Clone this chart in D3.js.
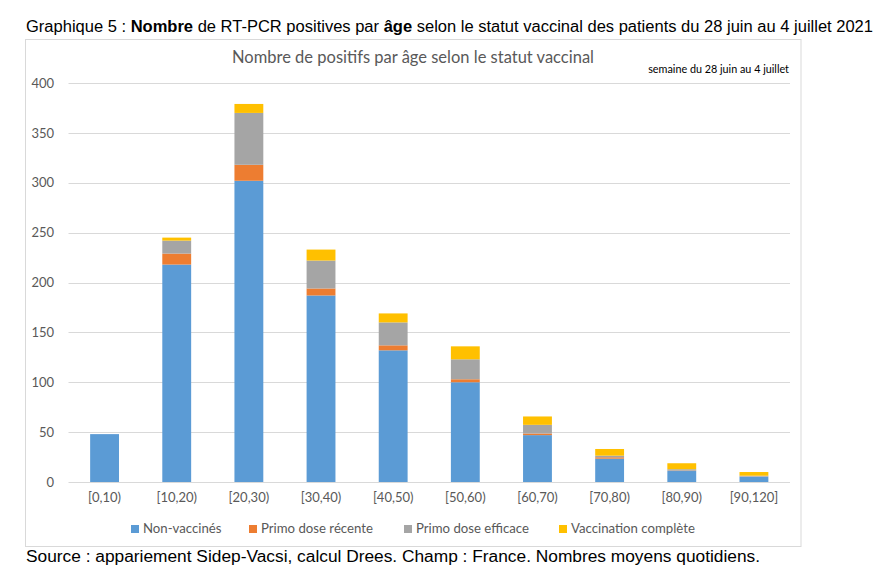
<!DOCTYPE html>
<html>
<head>
<meta charset="utf-8">
<script src="https://cdn.jsdelivr.net/npm/d3@7"></script>
<style>
  html, body { margin: 0; padding: 0; background: #fff; }
  svg { display: block; }
</style>
</head>
<body>
<svg id="chart" width="884" height="574"></svg>
<script>
const categories = ["[0,10)", "[10,20)", "[20,30)", "[30,40)", "[40,50)", "[50,60)", "[60,70)", "[70,80)", "[80,90)", "[90,120]"];
const seriesNames = ["Non-vaccinés", "Primo dose récente", "Primo dose efficace", "Vaccination complète"];
const nonVaccines = [48, 218, 302, 187, 132, 100, 47, 23.4, 11, 5.3];
const primoRecente = [0, 11, 16, 7, 5, 3, 1.6, 1.4, 0.3, 0.2];
const primoEfficace = [0, 13, 52, 28, 23, 20, 8.7, 1.6, 1.5, 0.8];
const vaccinationComplete = [0, 3, 9, 11, 9, 13, 8.4, 6.7, 6, 3.7];
const yTicks = [0, 50, 100, 150, 200, 250, 300, 350, 400];

const colors = ["#5B9BD5", "#ED7D31", "#A5A5A5", "#FFC000"];
const seriesValues = [nonVaccines, primoRecente, primoEfficace, vaccinationComplete];

const svg = d3.select("#chart");
const calibri = "Lato, 'Open Sans', sans-serif";

// Heading
const head = svg.append("text").attr("x", 26).attr("y", 32)
  .attr("font-family", "'Liberation Sans', Arial, sans-serif")
  .attr("font-size", 16).attr("fill", "#000")
  .attr("textLength", 847).attr("lengthAdjust", "spacingAndGlyphs");
head.append("tspan").text("Graphique 5 : ");
head.append("tspan").attr("font-weight", "bold").text("Nombre");
head.append("tspan").text(" de RT-PCR positives par ");
head.append("tspan").attr("font-weight", "bold").text("âge");
head.append("tspan").text(" selon le statut vaccinal des patients du 28 juin au 4 juillet 2021");

// Frame
svg.append("rect").attr("x", 25.5).attr("y", 39.5).attr("width", 775.5).attr("height", 507)
  .attr("fill", "#fff").attr("stroke", "#d9d9d9").attr("stroke-width", 1);

// Chart title
svg.append("text").attr("x", 413).attr("y", 63).attr("text-anchor", "middle")
  .attr("font-family", calibri).attr("font-size", 16.5).attr("fill", "#595959")
  .text("Nombre de positifs par âge selon le statut vaccinal");

svg.append("text").attr("x", 789).attr("y", 73).attr("text-anchor", "end")
  .attr("font-family", calibri).attr("font-size", 10.8).attr("fill", "#000")
  .text("semaine du 28 juin au 4 juillet");

const x = d3.scaleBand().domain(categories).range([68.5, 790])
  .paddingInner(0.6).paddingOuter(0.3);
const y = d3.scaleLinear().domain([0, 400]).range([482, 83]);

// Gridlines
svg.append("g").selectAll("line").data(yTicks.filter(d => d > 0)).join("line")
  .attr("x1", 68.5).attr("x2", 790)
  .attr("y1", d => Math.round(y(d)) + 0.5).attr("y2", d => Math.round(y(d)) + 0.5)
  .attr("stroke", "#d9d9d9").attr("stroke-width", 1);

// Y axis labels
const yAxis = d3.axisLeft(y).tickValues(yTicks).tickSize(0).tickPadding(0);
const yg = svg.append("g").attr("transform", "translate(54,0)").call(yAxis);
yg.select(".domain").remove();
yg.selectAll("text").attr("font-family", calibri).attr("font-size", 13).attr("fill", "#595959");

// Stacked data
const table = categories.map((c, i) => {
  const o = { cat: c };
  seriesNames.forEach((s, k) => o[s] = seriesValues[k][i]);
  return o;
});
const stack = d3.stack().keys(seriesNames)(table);

svg.append("g").selectAll("g").data(stack).join("g")
  .attr("fill", (d, i) => colors[i])
  .selectAll("rect").data(d => d).join("rect")
  .attr("x", d => x(d.data.cat))
  .attr("width", x.bandwidth())
  .attr("y", d => y(d[1]))
  .attr("height", d => Math.max(0, y(d[0]) - y(d[1])));

// Baseline
svg.append("line").attr("x1", 68.5).attr("x2", 790)
  .attr("y1", Math.round(y(0)) + 0.5).attr("y2", Math.round(y(0)) + 0.5)
  .attr("stroke", "#d9d9d9").attr("stroke-width", 1);

// X axis labels
const xAxis = d3.axisBottom(x).tickSize(0).tickPadding(0);
const xg = svg.append("g").attr("transform", "translate(0,493)").call(xAxis);
xg.select(".domain").remove();
xg.selectAll("text").attr("font-family", calibri).attr("font-size", 13).attr("fill", "#595959");

// Legend
const legendX = [131, 249, 404, 559];
const lg = svg.append("g").selectAll("g").data(seriesNames).join("g")
  .attr("transform", (d, i) => `translate(${legendX[i]},525)`);
lg.append("rect").attr("width", 8).attr("height", 8).attr("fill", (d, i) => colors[i]);
lg.append("text").attr("x", 12).attr("y", 8).attr("font-family", calibri)
  .attr("font-size", 13.2).attr("fill", "#595959").text(d => d);

// Footer
svg.append("text").attr("x", 26).attr("y", 562)
  .attr("font-family", "'Liberation Sans', Arial, sans-serif")
  .attr("font-size", 16).attr("fill", "#000")
  .attr("textLength", 734).attr("lengthAdjust", "spacingAndGlyphs")
  .text("Source : appariement Sidep-Vacsi, calcul Drees. Champ : France. Nombres moyens quotidiens.");
</script>
</body>
</html>
